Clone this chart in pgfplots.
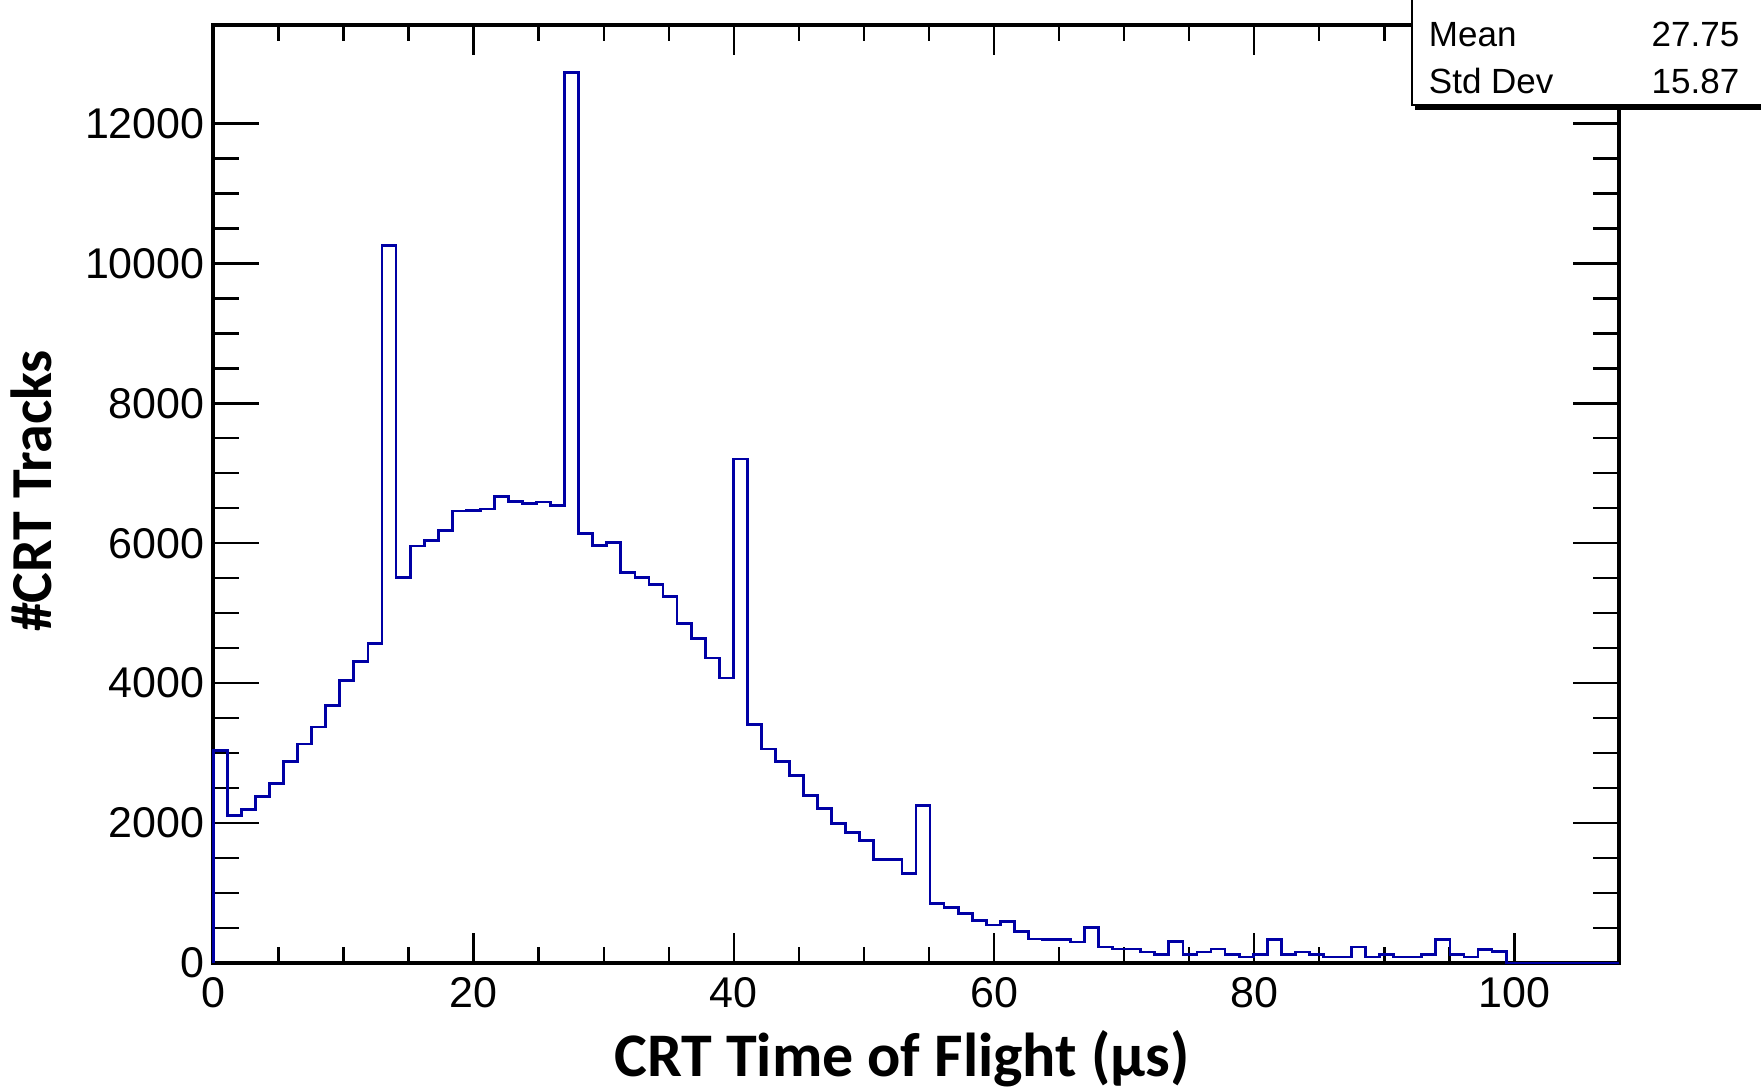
\documentclass[border=0pt]{standalone}
\usepackage{fontspec}
\setmainfont{Liberation Sans}
\newfontfamily\carlito{Carlito}
\usepackage{pgfplots}
\pgfplotsset{compat=1.18}
\definecolor{histblue}{RGB}{0,0,165}
\begin{document}
\begin{tikzpicture}
\begin{axis}[
  name=ax,
  scale only axis,
  width=351.3pt, height=234.4pt,
  xmin=0, xmax=108, ymin=0, ymax=13400,
  clip=false,
  axis line style={line width=1pt},
  xtick={0,20,40,60,80,100},
  ytick={0,2000,4000,6000,8000,10000,12000},
  minor x tick num=3, minor y tick num=3,
  tick align=inside,
  tick style={line width=0.6pt, black},
  major tick length=11.5pt, minor tick length=6.5pt,
  major x tick style={/pgfplots/major tick length=7.5pt},
  minor x tick style={/pgfplots/minor tick length=4pt},
  scaled y ticks=false, scaled x ticks=false,
  /pgf/number format/assume math mode=true,
  /pgf/number format/set thousands separator={},
  tick label style={font=\fontsize{10.75}{12}\selectfont},
  yticklabel style={inner sep=0pt, xshift=-2pt},
  xticklabel style={inner sep=0pt, yshift=-3.5pt},
]
\addplot[const plot mark left, color=histblue, line width=0.7pt, mark=none] coordinates {
(0,0)
(0,3040) (1.08,2110) (2.16,2200) (3.24,2385) (4.32,2565) (5.4,2885) (6.48,3130) (7.56,3375) (8.64,3685) (9.72,4040)
(10.8,4315) (11.88,4570) (12.96,10250) (14.04,5515) (15.12,5960) (16.2,6035) (17.28,6180) (18.36,6460) (19.44,6465) (20.52,6490)
(21.6,6670) (22.68,6600) (23.76,6570) (24.84,6590) (25.92,6535) (27.0,12730) (28.08,6145) (29.16,5970) (30.24,6005) (31.32,5580)
(32.4,5515) (33.48,5415) (34.56,5235) (35.64,4850) (36.72,4640) (37.8,4360) (38.88,4075) (39.96,7205) (41.04,3415) (42.12,3060)
(43.2,2885) (44.28,2675) (45.36,2395) (46.44,2210) (47.52,2000) (48.6,1865) (49.68,1755) (50.76,1475) (51.84,1475) (52.92,1275)
(54.0,2250) (55.08,855) (56.16,790) (57.24,710) (58.32,610) (59.4,545) (60.48,595) (61.56,450) (62.64,345) (63.72,340)
(64.8,340) (65.88,300) (66.96,510) (68.04,230) (69.12,200) (70.2,200) (71.28,157) (72.36,120) (73.44,305) (74.52,120)
(75.6,157) (76.68,200) (77.76,120) (78.84,86) (79.92,120) (81.0,334) (82.08,120) (83.16,157) (84.24,120) (85.32,86)
(86.4,86) (87.48,229) (88.56,86) (89.64,120) (90.72,86) (91.8,86) (92.88,124) (93.96,334) (95.04,124) (96.12,86)
(97.2,196) (98.28,162) (99.36,0) (108,0)
};
% stats box
\fill[white] (rel axis cs:0.853,0.9152) rectangle (rel axis cs:1.1015,1.0272);
\draw[line width=0.5pt] (rel axis cs:0.853,1.0272) -- (rel axis cs:0.853,0.9152) -- (rel axis cs:1.1015,0.9152);
\draw[line width=1.1pt] (rel axis cs:0.8555,0.9125) -- (rel axis cs:1.1015,0.9125);
\node[anchor=base west, inner sep=0pt, font=\fontsize{8.75}{10}\selectfont] at (rel axis cs:0.8645,0.9774) {Mean};
\node[anchor=base east, inner sep=0pt, font=\fontsize{8.75}{10}\selectfont] at (rel axis cs:1.0865,0.9774) {27.75};
\node[anchor=base west, inner sep=0pt, font=\fontsize{8.75}{10}\selectfont] at (rel axis cs:0.8645,0.9275) {Std Dev};
\node[anchor=base east, inner sep=0pt, font=\fontsize{8.75}{10}\selectfont] at (rel axis cs:1.0865,0.9275) {15.87};
% axis titles
\node[anchor=base, inner sep=0pt, font=\carlito\bfseries\fontsize{15.5}{18}\selectfont] at (rel axis cs:0.490,-0.1205) {CRT Time of Flight (µs)};
\node[anchor=base, rotate=90, inner sep=0pt, font=\carlito\bfseries\fontsize{14.5}{17}\selectfont] at (rel axis cs:-0.1149,0.5035) {\#CRT Tracks};
\end{axis}
\pgfresetboundingbox
\path[use as bounding box] ([shift={(-53.35pt,-31.25pt)}]ax.south west) rectangle ([shift={(35.625pt,6.375pt)}]ax.north east);
\end{tikzpicture}
\end{document}
